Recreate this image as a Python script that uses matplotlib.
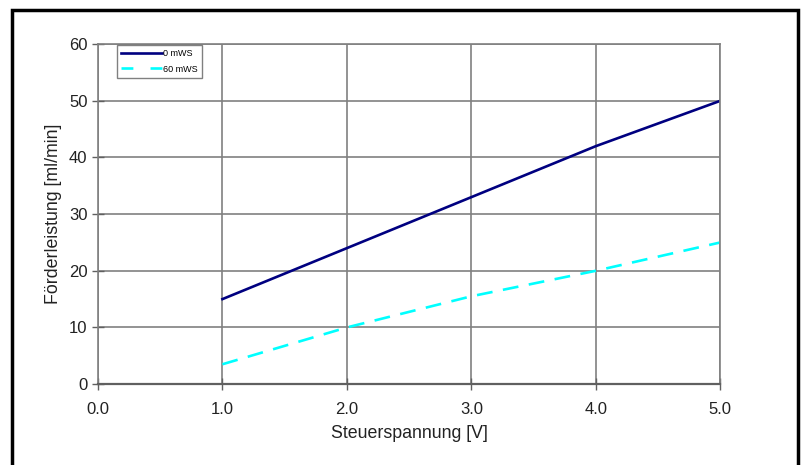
import matplotlib
matplotlib.use("Agg")
import matplotlib.pyplot as plt
from matplotlib.patches import Rectangle

plt.rcParams["font.family"] = ["Liberation Sans", "DejaVu Sans"]

# data
spannung = [1.0, 2.0, 3.0, 4.0, 5.0]
foerder_0mws = [15.0, 24.0, 33.0, 42.0, 50.0]
foerder_60mws = [3.5, 10.0, 15.5, 20.0, 25.0]

x_ticks = [0.0, 1.0, 2.0, 3.0, 4.0, 5.0]
y_ticks = [0, 10, 20, 30, 40, 50, 60]

fig = plt.figure(figsize=(8.03, 4.65), dpi=100)
ax = fig.add_axes([0.122, 0.174, 0.775, 0.731])

ax.plot(spannung, foerder_0mws, color="#000080", lw=1.9, label="0 mWS")
ax.plot(spannung, foerder_60mws, color="#00FFFF", lw=1.9, ls=(0, (6, 4)), label="60 mWS")

ax.set_xlim(0, 5)
ax.set_ylim(0, 60)
ax.set_xticks(x_ticks)
ax.set_xticklabels([f"{v:.1f}" for v in x_ticks])
ax.set_yticks(y_ticks)

ax.grid(True, color="#808080", lw=1.2)
ax.set_axisbelow(True)
for side in ["left", "bottom", "top", "right"]:
    ax.spines[side].set_color("#808080")
    ax.spines[side].set_linewidth(1.2)
ax.spines["bottom"].set_color("#606060")
ax.spines["bottom"].set_linewidth(1.6)

ax.tick_params(axis="both", direction="inout", length=8, width=1, color="#606060",
               labelsize=12, labelcolor="#222222")
ax.tick_params(axis="x", pad=9)

ax.set_xlabel("Steuerspannung [V]", fontsize=12.8, color="#222222", labelpad=6)
ax.set_ylabel("Förderleistung [ml/min]", fontsize=12.8, color="#222222", labelpad=5)

leg = ax.legend(loc="upper left", bbox_to_anchor=(0.03, 0.997), borderaxespad=0,
                fontsize=6.5, frameon=True, fancybox=False, handlelength=4.6,
                handletextpad=0.1, borderpad=0.45, labelspacing=0.7)
leg.get_frame().set_edgecolor("#606060")
leg.get_frame().set_linewidth(1.0)
# the reference legend shows the dashed line as two dashes with a long gap
leg.get_lines()[1].set_linestyle((0, (4.5, 6.5)))

# black frame around the picture
fig.patches.append(Rectangle((12 / 803, -0.05), 786 / 803, 1.05 - 10 / 465,
                             transform=fig.transFigure, fill=False,
                             edgecolor="black", lw=2.5))

fig.savefig("out.png", dpi=100)
